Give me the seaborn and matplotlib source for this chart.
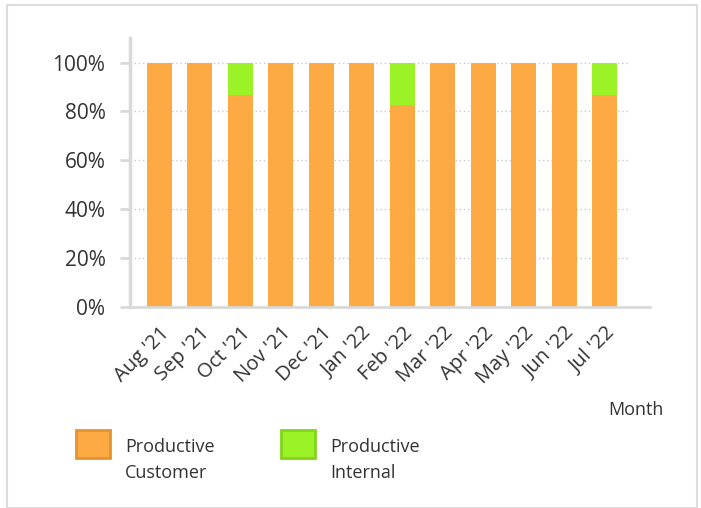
import matplotlib
matplotlib.use('Agg')
import matplotlib.pyplot as plt
import seaborn as sns
import pandas as pd
from matplotlib.patches import Rectangle
from matplotlib.ticker import PercentFormatter

# Data
months = ["Aug '21", "Sep '21", "Oct '21", "Nov '21", "Dec '21", "Jan '22",
          "Feb '22", "Mar '22", "Apr '22", "May '22", "Jun '22", "Jul '22"]
customer = [1.0, 1.0, 0.866, 1.0, 1.0, 1.0, 0.828, 1.0, 1.0, 1.0, 1.0, 0.866]
internal = [0.0, 0.0, 0.134, 0.0, 0.0, 0.0, 0.172, 0.0, 0.0, 0.0, 0.0, 0.134]
series_names = ['Productive\nCustomer', 'Productive\nInternal']

orange = '#FDA944'
green = '#9AF227'

df = pd.DataFrame({'month': months, 'customer': customer, 'internal': internal})
df['total'] = df['customer'] + df['internal']

sns.set_style('white')
plt.rcParams['font.family'] = ['Open Sans', 'DejaVu Sans']

W, H = 701, 508
fig = plt.figure(figsize=(W / 100, H / 100), dpi=100)
ax = fig.add_axes([0.185, 0.396, 0.742, 0.529])

# Stacked bars: total in green, customer share in orange over it
sns.barplot(data=df, x='month', y='total', color=green, width=0.62,
            saturation=1, linewidth=0, ax=ax)
sns.barplot(data=df, x='month', y='customer', color=orange, width=0.62,
            saturation=1, linewidth=0, ax=ax)

ax.set_ylim(0, 1.10)
ax.set_xlim(-0.73, 12.11)
ax.set_yticks([0, 0.2, 0.4, 0.6, 0.8, 1.0])
ax.yaxis.set_major_formatter(PercentFormatter(1.0, decimals=0))
# dotted gridlines, stopping a bit short of the axis end
for yv in ax.get_yticks()[1:]:
    ax.axhline(yv, xmin=0, xmax=0.962, linestyle=(0, (1, 2)), color='#c8c8c8',
               linewidth=1, zorder=0)

for s in ['top', 'right']:
    ax.spines[s].set_visible(False)
ax.spines['left'].set_color('#d9d9d9')
ax.spines['left'].set_linewidth(2.5)
ax.spines['bottom'].set_color('#d9d9d9')
ax.spines['bottom'].set_linewidth(2)

ax.tick_params(axis='y', left=True, length=7.5, width=2, color='#d9d9d9',
               labelsize=15, labelcolor='#333333', pad=10)
ax.tick_params(axis='x', bottom=False, labelsize=14.5, labelcolor='#333333', pad=8)
plt.setp(ax.get_xticklabels(), rotation=45, ha='right', va='top',
         rotation_mode='anchor')
ax.set_ylabel('')
ax.set_xlabel('')

fig.text(0.947, 0.193, 'Month', ha='right', va='center', fontsize=13,
         color='#333333')

# legend drawn by hand: swatch aligned with the first text line
legend_items = [(76, orange, '#E39433'), (281, green, '#82D41C')]
for (x0, fc, ec), name in zip(legend_items, series_names):
    fig.patches.append(Rectangle((x0 / W, 1 - 458 / H), 34 / W, 28 / H,
                                 transform=fig.transFigure, facecolor=fc,
                                 edgecolor=ec, linewidth=2))
    fig.text((x0 + 49) / W, 1 - 438 / H, name, ha='left', va='top',
             fontsize=13, color='#333333', linespacing=1.55)

# light frame around the whole figure
fig.patches.append(Rectangle((0.01, 0.0), 0.984, 0.99, transform=fig.transFigure,
                             fill=False, edgecolor='#dddddd', linewidth=1.5))

fig.savefig('out.png', dpi=100)
